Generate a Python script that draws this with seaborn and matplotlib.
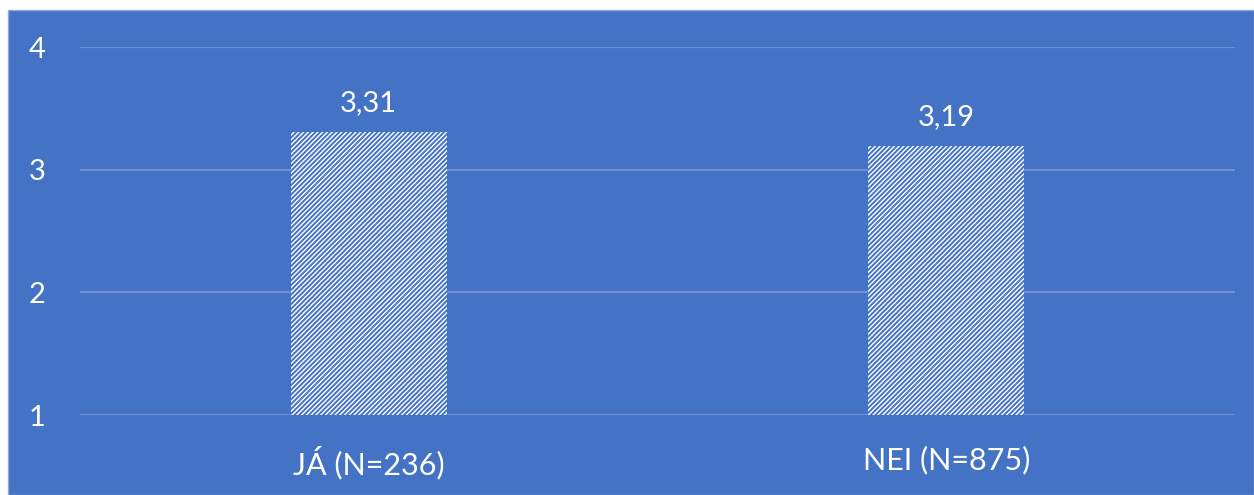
import matplotlib.pyplot as plt
import pandas as pd
import seaborn as sns
from matplotlib.patches import Rectangle

sns.set_theme(style="white")
plt.rcParams['font.family'] = ['Lato', 'DejaVu Sans']
plt.rcParams['hatch.linewidth'] = 1.4

BLUE = "#4472C4"
GRID = "#6F90D0"

categories = ["JÁ (N=236)", "NEI (N=875)"]
values = [3.31, 3.19]
labels = ["3,31", "3,19"]

df = pd.DataFrame({"cat": categories, "val": values})

fig = plt.figure(figsize=(12.54, 4.95), dpi=100)
fig.patch.set_facecolor("white")
fig.patches.append(Rectangle((8 / 1254, 0), 1 - 8 / 1254, 485 / 495,
                             transform=fig.transFigure, facecolor=BLUE,
                             edgecolor="#8FA9DC", linewidth=1, zorder=-10))

ax = fig.add_axes([80 / 1254, 80 / 495, 1155 / 1254, 368 / 495])
ax.set_zorder(1)
ax.patch.set_alpha(0)

sns.barplot(data=df, x="cat", y="val", width=0.27, color="white",
            saturation=1, ax=ax, zorder=3)
for bar in ax.patches:
    bar.set_facecolor("white")
    bar.set_edgecolor(BLUE)
    bar.set_hatch("///////")
    bar.set_linewidth(0)

ax.set_ylim(1, 4)
ax.set_xlim(-0.5, 1.5)
ax.set_yticks([1, 2, 3, 4])
ax.yaxis.grid(True, color=GRID, linewidth=1.6)
ax.set_axisbelow(True)
for s in ax.spines.values():
    s.set_visible(False)

ax.tick_params(axis="y", colors="white", labelsize=21, length=0, pad=25)
ax.tick_params(axis="x", colors="white", labelsize=22, length=0, pad=22)
ax.set_xlabel("")
ax.set_ylabel("")

for i, (v, t) in enumerate(zip(values, labels)):
    ax.text(i, v + 0.13, t, ha="center", va="bottom", color="white", fontsize=21)

fig.savefig("out.png", dpi=100, facecolor=fig.get_facecolor())
